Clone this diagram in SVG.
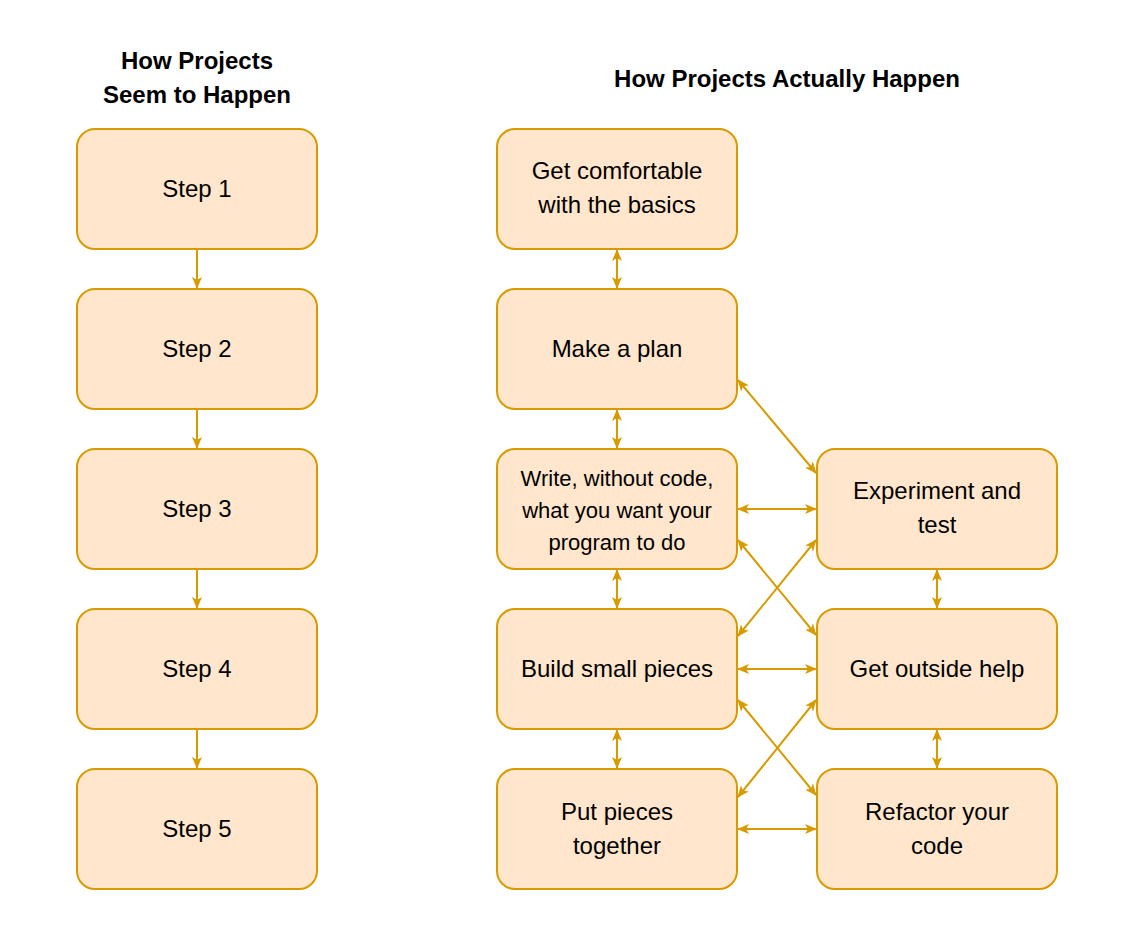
<svg xmlns="http://www.w3.org/2000/svg" width="1136" height="946" viewBox="0 0 1136 946">
<style>
.n rect{fill:#ffe6cc;stroke:#d79b00;stroke-width:2}
text{font-family:"Liberation Sans",Arial,sans-serif;font-size:24px;fill:#000;text-anchor:middle}
.t{font-weight:bold;font-size:24px}
.w{font-size:22px}
#c line{stroke:#d79b00;stroke-width:2}
</style>
<defs>
<marker id="a" viewBox="0 0 12 10" refX="11" refY="5" markerWidth="12" markerHeight="10" markerUnits="userSpaceOnUse" orient="auto-start-reverse"><path d="M0,0 L12,5 L0,10 L3,5 z" fill="#d79b00"/></marker>
</defs>
<rect width="1136" height="946" fill="#fff"/>
<text class="t" x="197" y="69">How Projects</text>
<text class="t" x="197" y="103">Seem to Happen</text>
<text class="t" x="787" y="87">How Projects Actually Happen</text>
<g id="s1" class="n"><rect x="77" y="129" width="240" height="120" rx="18"/><text x="197" y="197">Step 1</text></g>
<g id="s2" class="n"><rect x="77" y="289" width="240" height="120" rx="18"/><text x="197" y="357">Step 2</text></g>
<g id="s3" class="n"><rect x="77" y="449" width="240" height="120" rx="18"/><text x="197" y="517">Step 3</text></g>
<g id="s4" class="n"><rect x="77" y="609" width="240" height="120" rx="18"/><text x="197" y="677">Step 4</text></g>
<g id="s5" class="n"><rect x="77" y="769" width="240" height="120" rx="18"/><text x="197" y="837">Step 5</text></g>
<g id="m1" class="n"><rect x="497" y="129" width="240" height="120" rx="18"/><text x="617" y="179">Get comfortable</text><text x="617" y="213">with the basics</text></g>
<g id="m2" class="n"><rect x="497" y="289" width="240" height="120" rx="18"/><text x="617" y="357">Make a plan</text></g>
<g id="m3" class="n"><rect x="497" y="449" width="240" height="120" rx="18"/><text class="w" x="617" y="486">Write, without code,</text><text class="w" x="617" y="518">what you want your</text><text class="w" x="617" y="550">program to do</text></g>
<g id="m4" class="n"><rect x="497" y="609" width="240" height="120" rx="18"/><text x="617" y="677">Build small pieces</text></g>
<g id="m5" class="n"><rect x="497" y="769" width="240" height="120" rx="18"/><text x="617" y="820">Put pieces</text><text x="617" y="854">together</text></g>
<g id="r1" class="n"><rect x="817" y="449" width="240" height="120" rx="18"/><text x="937" y="499">Experiment and</text><text x="937" y="533">test</text></g>
<g id="r2" class="n"><rect x="817" y="609" width="240" height="120" rx="18"/><text x="937" y="677">Get outside help</text></g>
<g id="r3" class="n"><rect x="817" y="769" width="240" height="120" rx="18"/><text x="937" y="820">Refactor your</text><text x="937" y="854">code</text></g>
<g id="c">
<line x1="197" y1="249" x2="197" y2="288" marker-end="url(#a)"/>
<line x1="197" y1="409" x2="197" y2="448" marker-end="url(#a)"/>
<line x1="197" y1="569" x2="197" y2="608" marker-end="url(#a)"/>
<line x1="197" y1="729" x2="197" y2="768" marker-end="url(#a)"/>
<line x1="617" y1="250" x2="617" y2="288" marker-start="url(#a)" marker-end="url(#a)"/>
<line x1="617" y1="410" x2="617" y2="448" marker-start="url(#a)" marker-end="url(#a)"/>
<line x1="617" y1="570" x2="617" y2="608" marker-start="url(#a)" marker-end="url(#a)"/>
<line x1="617" y1="730" x2="617" y2="768" marker-start="url(#a)" marker-end="url(#a)"/>
<line x1="937" y1="570" x2="937" y2="608" marker-start="url(#a)" marker-end="url(#a)"/>
<line x1="937" y1="730" x2="937" y2="768" marker-start="url(#a)" marker-end="url(#a)"/>
<line x1="738" y1="509" x2="816" y2="509" marker-start="url(#a)" marker-end="url(#a)"/>
<line x1="738" y1="669" x2="816" y2="669" marker-start="url(#a)" marker-end="url(#a)"/>
<line x1="738" y1="829" x2="816" y2="829" marker-start="url(#a)" marker-end="url(#a)"/>
<line x1="738" y1="380" x2="816" y2="473" marker-start="url(#a)" marker-end="url(#a)"/>
<line x1="738" y1="540" x2="816" y2="635" marker-start="url(#a)" marker-end="url(#a)"/>
<line x1="738" y1="636" x2="816" y2="540" marker-start="url(#a)" marker-end="url(#a)"/>
<line x1="738" y1="700" x2="816" y2="795" marker-start="url(#a)" marker-end="url(#a)"/>
<line x1="738" y1="797" x2="816" y2="700" marker-start="url(#a)" marker-end="url(#a)"/>
</g>
</svg>
